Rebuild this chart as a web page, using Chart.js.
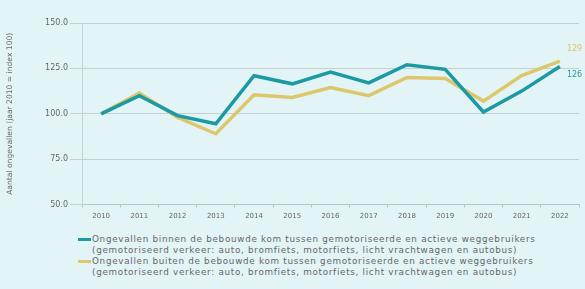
<!DOCTYPE html>
<html>
<head>
<meta charset="utf-8">
<script src="https://cdn.jsdelivr.net/npm/chart.js@4.4.0/dist/chart.umd.min.js"></script>
<style>
    body { margin: 0; background: #e3f4f6; font-family: "DejaVu Sans", sans-serif; }
    #wrap { position: relative; width: 585px; height: 289px; }
    #chart { position: absolute; left: 0; top: 0; }
    .legend { position: absolute; left: 78px; font-size: 8.8px; letter-spacing: 0.7px; color: #666; line-height: 11px; white-space: nowrap; }
    .legend .item { position: relative; padding-left: 14px; }
    .legend .mark { position: absolute; left: 0; top: 4px; width: 13px; height: 3px; }
</style>
</head>
<body>
<div id="wrap">
    <canvas id="chart" width="585" height="224"></canvas>
    <div class="legend" style="top:234px">
        <div class="item"><span class="mark" style="background:#1b9aa3"></span>Ongevallen binnen de bebouwde kom tussen gemotoriseerde en actieve weggebruikers<br>(gemotoriseerd verkeer: auto, bromfiets, motorfiets, licht vrachtwagen en autobus)</div>
        <div class="item"><span class="mark" style="background:#dcc76c"></span>Ongevallen buiten de bebouwde kom tussen gemotoriseerde en actieve weggebruikers<br>(gemotoriseerd verkeer: auto, bromfiets, motorfiets, licht vrachtwagen en autobus)</div>
    </div>
</div>
<script>
// =========================
// DATA
// =========================
const years = ["2010", "2011", "2012", "2013", "2014", "2015", "2016", "2017", "2018", "2019", "2020", "2021", "2022"];
const binnenKom = [100, 110, 99, 94.5, 121, 116.5, 123, 117, 127, 124.5, 101, 112.5, 126];
const buitenKom = [100, 111.5, 98, 89, 110.5, 109, 114.5, 110, 120, 119.5, 107, 121, 129];
const yTicks = [50, 75, 100, 125, 150];
const endLabels = ["126", "129"];

const teal = "#1b9aa3";
const gold = "#dcc76c";

// labels at the end of each line
const endLabelPlugin = {
    id: "endLabels",
    afterDatasetsDraw(chart) {
        const ctx = chart.ctx;
        ctx.save();
        ctx.font = "8px 'DejaVu Sans', sans-serif";
        ctx.textAlign = "left";
        chart.data.datasets.forEach((ds, i) => {
            const pts = chart.getDatasetMeta(i).data;
            const p = pts[pts.length - 1];
            ctx.fillStyle = ds.borderColor;
            const dy = i === 0 ? 10 : -10;
            ctx.fillText(endLabels[i], p.x + 7, p.y + dy);
        });
        ctx.restore();
    }
};

new Chart(document.getElementById("chart"), {
    type: "line",
    data: {
        labels: years,
        datasets: [
            { label: "binnen", data: binnenKom, borderColor: teal, borderWidth: 3.5, pointRadius: 0, tension: 0 },
            { label: "buiten", data: buitenKom, borderColor: gold, borderWidth: 3.5, pointRadius: 0, tension: 0 }
        ]
    },
    options: {
        responsive: false,
        animation: false,
        layout: { padding: { top: 23, right: 6, left: 5, bottom: 0 } },
        plugins: {
            legend: { display: false },
            tooltip: { enabled: false }
        },
        scales: {
            x: {
                offset: true,
                grid: { display: true, drawOnChartArea: false, drawTicks: true, tickLength: 3, color: "#b9c4c6", offset: true },
                border: { color: "#b9c4c6" },
                ticks: { color: "#666", font: { family: "DejaVu Sans", size: 7 }, padding: 4, maxRotation: 0 }
            },
            y: {
                min: 50,
                max: 150,
                afterBuildTicks: axis => { axis.ticks = yTicks.map(v => ({ value: v })); },
                grid: { color: "#c6cfd1", drawTicks: true, tickLength: 12 },
                border: { display: true, color: "#c6cfd1" },
                ticks: {
                    color: "#666",
                    font: { family: "DejaVu Sans", size: 8 },
                    padding: 2,
                    callback: v => v.toFixed(1)
                },
                title: {
                    display: true,
                    text: "Aantal ongevallen (jaar 2010 = index 100)",
                    color: "#666",
                    font: { family: "DejaVu Sans", size: 7.6 },
                    padding: { top: 0, bottom: 29 }
                }
            }
        }
    },
    plugins: [endLabelPlugin]
});
</script>
</body>
</html>
